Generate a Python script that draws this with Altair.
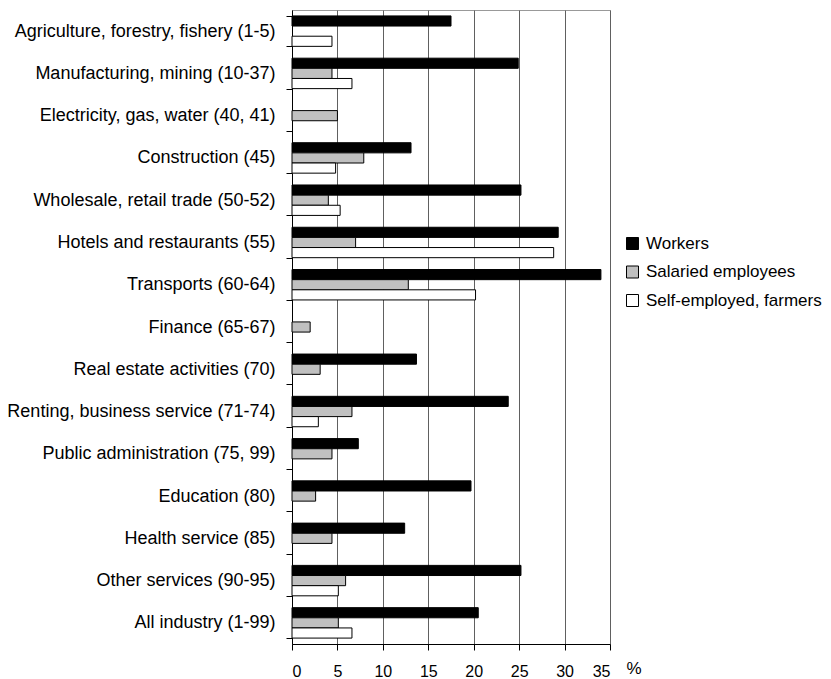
import altair as alt
import pandas as pd

categories = [
    "Agriculture, forestry, fishery (1-5)",
    "Manufacturing, mining (10-37)",
    "Electricity, gas, water (40, 41)",
    "Construction (45)",
    "Wholesale, retail trade (50-52)",
    "Hotels and restaurants (55)",
    "Transports (60-64)",
    "Finance (65-67)",
    "Real estate activities (70)",
    "Renting, business service (71-74)",
    "Public administration (75, 99)",
    "Education (80)",
    "Health service (85)",
    "Other services (90-95)",
    "All industry (1-99)",
]
series = ["Workers", "Salaried employees", "Self-employed, farmers"]
workers = [17.5, 24.9, None, 13.1, 25.2, 29.3, 34.0, None, 13.7, 23.8, 7.3, 19.7, 12.4, 25.2, 20.5]
salaried = [None, 4.4, 5.0, 7.9, 4.0, 7.0, 12.8, 2.0, 3.1, 6.6, 4.4, 2.6, 4.4, 5.9, 5.1]
self_employed = [4.4, 6.6, None, 4.8, 5.3, 28.8, 20.2, None, None, 2.9, None, None, None, 5.1, 6.6]
x_ticks = [0, 5, 10, 15, 20, 25, 30, 35]
colors = ["#000000", "#c0c0c0", "#ffffff"]

rows = []
for name, vals in zip(series, [workers, salaried, self_employed]):
    for cat, v in zip(categories, vals):
        if v is not None:
            rows.append({"category": cat, "series": name, "value": v})
df = pd.DataFrame(rows)

FONT = "Liberation Sans"

chart = (
    alt.Chart(df)
    .mark_bar(stroke="black", strokeWidth=1)
    .encode(
        x=alt.X(
            "value:Q",
            scale=alt.Scale(domain=[0, 35], nice=False),
            axis=alt.Axis(
                values=x_ticks,
                title="%",
                titleX=334,
                titleY=24,
                titleAlign="left",
                titleBaseline="middle",
                titleFontWeight="normal",
                titleFontSize=17,
                titleFont=FONT,
                titleColor="black",
                labelFontSize=16,
                labelFont=FONT,
                labelColor="black",
                labelPadding=13,
                tickSize=6,
                tickColor="black",
                domainColor="black",
                grid=True,
                gridColor="#606060",
            ),
        ),
        y=alt.Y(
            "category:N",
            sort=categories,
            scale=alt.Scale(paddingInner=0.28, paddingOuter=0.14),
            axis=alt.Axis(
                title=None,
                tickBand="extent",
                tickSize=6,
                tickColor="black",
                domainColor="black",
                labelFontSize=18,
                labelFont=FONT,
                labelColor="black",
                labelPadding=11,
                labelLimit=400,
                grid=False,
            ),
        ),
        yOffset=alt.YOffset(
            "series:N", sort=series, scale=alt.Scale(paddingInner=0, paddingOuter=0)
        ),
        color=alt.Color(
            "series:N",
            sort=series,
            scale=alt.Scale(domain=series, range=colors),
            legend=alt.Legend(
                title=None,
                orient="none",
                legendX=332,
                legendY=225,
                padding=0,
                symbolType="square",
                symbolSize=144,
                symbolStrokeColor="black",
                symbolStrokeWidth=1,
                symbolOpacity=1,
                labelFontSize=17,
                labelFont=FONT,
                labelColor="black",
                labelOffset=5,
                labelLimit=400,
                rowPadding=10.5,
            ),
        ),
    )
    .properties(
        width=318,
        height=634,
        autosize=alt.AutoSizeParams(type="none"),
        padding={"left": 284, "top": 2, "right": 213, "bottom": 36},
    )
    .configure_view(stroke="#999999", strokeWidth=1)
)

chart.save("out.html", embed_options={"renderer": "svg", "actions": False})
